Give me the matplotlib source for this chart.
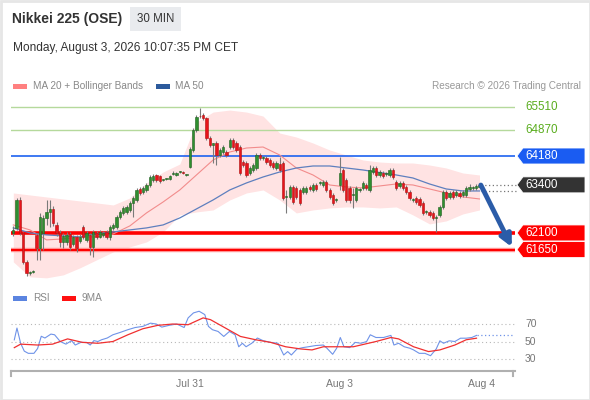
import matplotlib
matplotlib.use("Agg")
import matplotlib.pyplot as plt
from matplotlib.patches import Polygon, Rectangle
from matplotlib.transforms import IdentityTransform

plt.rcParams['font.family'] = ['Liberation Sans', 'DejaVu Sans']

# 30 min candles, Nikkei 225 (OSE)
opens = [62100, 62235, 62990, 62100, 61320, 61020, 61050, 62045, 61695, 62100,
         62505, 62670, 62750, 62315, 62100, 61860, 61860, 62075, 61805, 61995,
         61885, 62265, 61910, 62045, 61725, 62100, 61995, 62045, 62130, 61995,
         62235, 62265, 62535, 62640, 62670, 62720, 62910, 62990, 63290, 63210,
         63260, 63395, 63530, 63665, 63640, 63530, 63560, 63560, 63695, 63665,
         63750, 63750, 63665, 63885, 64340, 64880, 65260, 65285, 65205, 64665,
         64475, 64530, 64205, 64290, 64290, 64425, 64610, 64530, 64425, 64020,
         63990, 63720, 63800, 63855, 64205, 64125, 64125, 64070, 63990, 63855,
         63965, 63990, 63075, 63075, 63345, 63315, 63260, 63210, 63210, 63345,
         63260, 63395, 63450, 63395, 63480, 63260, 63130, 62990, 63395, 63800,
         63530, 63315, 63130, 62990, 63260, 63315, 63395, 63260, 63750, 63855,
         63665, 63720, 63695, 63665, 63800, 63480, 63370, 63450, 63345, 63210,
         62990, 63045, 63020, 62910, 62670, 62670, 62640, 62505, 62585, 62805,
         63210, 63075, 63210, 63130, 63180, 63130, 63130, 63290, 63315, 63315,
         63345]
highs = [62290, 63045, 63075, 62130, 61370, 61075, 61100, 62100, 62640, 62585,
         62990, 62990, 62830, 62400, 62180, 62100, 62130, 62130, 62045, 62045,
         62075, 62315, 62155, 62100, 62180, 62155, 62180, 62155, 62180, 62315,
         62370, 62585, 62720, 62830, 62855, 62965, 63100, 63315, 63345, 63370,
         63450, 63665, 63695, 63695, 63665, 63560, 63590, 63665, 63775, 63750,
         63775, 63775, 63695, 64425, 64935, 65285, 65475, 65340, 65235, 64720,
         64530, 64585, 64395, 64475, 64340, 64665, 64665, 64585, 64475, 64070,
         64045, 63910, 63990, 64260, 64260, 64180, 64180, 64125, 64045, 64045,
         64155, 64045, 63260, 63395, 63395, 63370, 63315, 63370, 63370, 63395,
         63450, 63450, 63505, 63530, 63530, 63315, 63180, 63045, 64155, 63855,
         63585, 63370, 63315, 63370, 63315, 63505, 63450, 63935, 63910, 63910,
         63800, 63775, 63750, 63855, 63855, 63530, 63505, 63505, 63395, 63260,
         63045, 63100, 63075, 62965, 62720, 62720, 62695, 62585, 62855, 63260,
         63260, 63235, 63260, 63260, 63235, 63260, 63370, 63425, 63370, 63425,
         63450]
lows = [62020, 62180, 62045, 61265, 60940, 60965, 61020, 61370, 61370, 61640,
        62315, 62265, 62290, 62020, 61725, 61695, 61775, 61640, 61750, 61590,
        61830, 61940, 61860, 61505, 61450, 61940, 61965, 61995, 61940, 61910,
        62180, 62210, 62480, 62585, 62615, 62670, 62535, 62940, 63125, 63155,
        63210, 63345, 63480, 63480, 63450, 63505, 63530, 63530, 63665, 63640,
        63720, 63695, 63640, 63855, 64290, 64830, 65205, 65150, 64610, 64425,
        63990, 63935, 64155, 64235, 64155, 64370, 64370, 64290, 63665, 63885,
        63610, 63665, 63750, 63800, 64070, 64070, 63965, 63885, 63830, 63800,
        63750, 62990, 62640, 63020, 62885, 63020, 62855, 63155, 63155, 63235,
        63210, 63235, 63395, 63345, 63210, 63020, 62855, 62940, 63260, 63210,
        62940, 62910, 62775, 62940, 63210, 63260, 63260, 63210, 63695, 63610,
        63610, 63585, 63640, 63610, 63560, 63260, 63315, 63260, 63155, 62990,
        62940, 62885, 62805, 62585, 62615, 62535, 62450, 62130, 62535, 62750,
        62990, 63020, 63020, 63075, 63045, 63075, 63075, 63235, 63260, 63260,
        63315]
closes = [62180, 62990, 62100, 61320, 61020, 61050, 61075, 61695, 62535, 62505,
          62670, 62750, 62370, 62100, 61860, 62020, 62045, 61725, 61995, 61695,
          61995, 61995, 62100, 61725, 62130, 61995, 62130, 62100, 61995, 62265,
          62315, 62535, 62670, 62775, 62805, 62910, 63045, 63260, 63180, 63315,
          63395, 63610, 63640, 63530, 63505, 63550, 63575, 63640, 63710, 63720,
          63760, 63720, 63670, 64370, 64880, 65235, 65250, 65205, 64665, 64475,
          64530, 64205, 64340, 64425, 64205, 64610, 64425, 64340, 63720, 63935,
          63665, 63855, 63935, 64205, 64125, 64140, 64020, 63935, 63885, 63990,
          63800, 63045, 63085, 63345, 62940, 63075, 62910, 63315, 63315, 63290,
          63395, 63290, 63460, 63480, 63260, 63075, 62910, 63000, 63720, 63260,
          62990, 62990, 63140, 63315, 63270, 63450, 63315, 63800, 63855, 63665,
          63750, 63640, 63705, 63800, 63610, 63315, 63450, 63315, 63210, 63045,
          63000, 62940, 62855, 62640, 62680, 62585, 62505, 62515, 62805, 63210,
          63045, 63180, 63075, 63210, 63100, 63210, 63315, 63345, 63325, 63370,
          63395]

# indicator lines, read every 5 bars
ind_idx = list(range(0, 141, 5))
ma20 = [62317, 62182, 61912, 61939, 61993, 61993, 62074, 62290, 62641, 62938,
        63262, 63667, 64072, 64288, 64396, 64423, 64207, 63856, 63667, 63397,
        63343, 63316, 63370, 63424, 63397, 63289, 63181, 63073, 63019]
ma50 = [62236, 62101, 62047, 62020, 61993, 62074, 62128, 62182, 62236, 62317,
        62506, 62749, 62992, 63262, 63451, 63613, 63748, 63856, 63910, 63910,
        63856, 63802, 63735, 63667, 63586, 63424, 63289, 63235, 63235]
bb_upper = [63181, 63127, 63073, 63019, 62965, 62911, 62857, 63046, 63451, 63748,
            63964, 65098, 65368, 65422, 65368, 65260, 64801, 64693, 64531, 64342,
            64207, 64072, 64018, 63991, 63991, 63937, 63856, 63721, 63667]
bb_lower = [61318, 60913, 60886, 60967, 61156, 61372, 61588, 61723, 61858, 62128,
            62587, 62668, 62722, 62992, 63181, 63262, 62992, 62641, 62722, 62776,
            62803, 62803, 62776, 62803, 62587, 62344, 62425, 62614, 62722]

# RSI panel
rsi_x = [0.3, 1.1, 2.2, 3.3, 4.5, 6.2, 7.3, 8.4, 9.5, 11.3, 12.4, 14.1, 15.8, 17.5,
         18.6, 20.3, 22.0, 23.1, 24.2, 25.4, 26.5, 28.2, 29.9, 32.1, 34.4, 36.6,
         38.9, 41.2, 42.9, 44.6, 46.8, 49.1, 51.3, 52.5, 54.1, 55.8, 57.5, 58.6,
         59.8, 61.5, 63.2, 64.9, 66.6, 67.7, 68.8, 69.9, 71.6, 73.3, 75.0, 77.3,
         79.5, 81.2, 82.4, 83.5, 85.2, 86.9, 88.6, 90.8, 93.1, 94.2, 95.9, 97.1,
         98.2, 99.3, 101.0, 102.7, 104.4, 106.1, 107.2, 108.9, 111.2, 113.4, 114.3,
         115.7, 117.4, 119.1, 120.2, 121.9, 123.6, 125.3, 127.0, 128.1, 129.2,
         130.9, 132.6, 134.3, 136.0, 137.7, 139.1]
rsi = [51.9, 65.4, 48, 39, 36.5, 36.5, 42, 56, 54, 58.5, 57.7, 50, 47, 51, 46, 49,
       49, 46, 51, 50, 52, 54, 57.7, 60.4, 63.5, 66, 67.3, 71, 70, 66.5, 68.5, 70,
       66, 77, 82.7, 84.6, 80.8, 67.3, 63.5, 61.5, 55.8, 61.5, 57.7, 44, 48, 44, 48,
       54, 51, 49, 48, 34.6, 38.5, 34.6, 41.5, 43, 44, 45.4, 46, 42.3, 35.4, 42.3,
       54.6, 44, 43, 49, 48, 50, 57.7, 54.6, 54.6, 57, 46, 48, 44, 42.3, 40.4, 36.5,
       36.5, 33.8, 41.5, 50.8, 48, 50.8, 50, 53.8, 53.8, 54.6, 57]
ma9_x = [0.3, 2.2, 7.3, 11.8, 16.3, 20.8, 25.4, 29.9, 34.4, 38.9, 43.4, 47.9, 52.5,
         57.0, 59.2, 63.7, 68.2, 72.8, 77.3, 81.8, 86.3, 89.7, 93.1, 97.6, 102.1,
         105.5, 108.9, 113.4, 115.7, 120.2, 124.7, 128.1, 132.6, 136.0, 139.1]
ma9 = [43, 47, 46, 47, 53, 49, 48, 50, 57.7, 64.6, 68.5, 70, 69.2, 77, 75, 65.4,
       55.8, 52, 49, 44, 41.5, 40.4, 44, 44, 44, 47, 50, 54.6, 53, 44, 38.5, 40.4,
       46, 52, 53.8]

resist = [65510, 64870]
pivot = 64180
last_price = 63400
supports = [62100, 61650]
day_ticks = [53, 98, 140.5]
day_labels = ['Jul 31', 'Aug 3', 'Aug 4']

W, H = 590, 400
fig = plt.figure(figsize=(W / 100, H / 100), dpi=100)
fig.patch.set_facecolor('white')
fig.add_artist(Rectangle((0.5, 0.5), W - 1, H - 1, transform=IdentityTransform(),
                         fill=False, edgecolor='#e6e6e6', lw=2))

def fbox(l, t, r, b):
    return [l / W, 1 - b / H, (r - l) / W, (b - t) / H]

# header
fig.text(12 / W, 1 - 19 / H, 'Nikkei 225 (OSE)', fontsize=10, fontweight='bold',
         color='#333333', va='center')
fig.add_artist(Rectangle((130 / W, 1 - 31 / H), 51 / W, 24 / H,
                         transform=fig.transFigure, facecolor='#e9ebee', edgecolor='none'))
fig.text(155.5 / W, 1 - 19 / H, '30 MIN', fontsize=8.3, color='#333333',
         ha='center', va='center')
fig.text(13 / W, 1 - 48 / H, 'Monday, August 3, 2026 10:07:35 PM CET', fontsize=8.6,
         color='#333333', va='center')

# legends
def swatch(x, y, color):
    fig.add_artist(Rectangle((x / W, 1 - (y + 2.5) / H), 14 / W, 5 / H,
                             transform=fig.transFigure, facecolor=color, edgecolor='none'))

swatch(13, 86, '#ff8080')
fig.text(33 / W, 1 - 86 / H, 'MA 20 + Bollinger Bands', fontsize=7.2, color='#888888', va='center')
swatch(156, 86, '#2c5a9c')
fig.text(175 / W, 1 - 86 / H, 'MA 50', fontsize=7.2, color='#888888', va='center')
fig.text(581 / W, 1 - 86 / H, 'Research \u00a9 2026 Trading Central', fontsize=7.2,
         color='#999999', va='center', ha='right')
swatch(13, 298, '#5b84e0')
fig.text(33 / W, 1 - 298 / H, 'RSI', fontsize=7.2, color='#888888', va='center')
swatch(62, 298, '#ff1010')
fig.text(82 / W, 1 - 298 / H, '9MA', fontsize=7.2, color='#888888', va='center')

# main price panel
ax = fig.add_axes(fbox(11, 100, 515, 282))
ax.set_xlim(-0.69, 150.66)
ax.set_ylim(60774, 65694)
ax.axis('off')

ax.fill_between(ind_idx, bb_lower, bb_upper, color='#ffe3e3', lw=0, zorder=1)
ax.plot(ind_idx, ma20, color='#f28c8c', lw=0.8, zorder=2)
ax.plot(ind_idx, ma50, color='#5e7fbe', lw=0.9, zorder=2)

for lv in resist:
    ax.axhline(lv, color='#b5d99c', lw=1, zorder=1.5)
ax.axhline(pivot, color='#1e62f0', lw=1.2, zorder=1.5)
ax.axhline(supports[0], color='#ff0000', lw=2.6, zorder=1.5)
ax.axhline(supports[1], color='#ff9a9a', lw=3.2, zorder=1.5)
ax.axhline(supports[1], color='#ff0000', lw=1.5, zorder=1.6)

idx = list(range(len(closes)))
up = [c >= o for o, c in zip(opens, closes)]
face = ['#2f8f2f' if u else '#e8141b' for u in up]
edge = ['#1f5f1f' if u else '#b01010' for u in up]
body_h = [max(abs(c - o), 20) for o, c in zip(opens, closes)]
body_b = [min(o, c) for o, c in zip(opens, closes)]
ax.vlines(idx, lows, highs, color='#7a7a7a', lw=0.8, zorder=3)
ax.bar(idx, body_h, bottom=body_b, width=0.68, color=face, edgecolor=edge,
       linewidth=0.4, zorder=4)

n = len(closes)
ax.plot([n - 0.5, 151.3], [last_price, last_price], ls=(0, (1, 2)), color='#777777',
        lw=0.9, clip_on=False, zorder=2)
ax.plot([n - 0.5, 151.3], [ma50[-1], ma50[-1]], ls=(0, (1, 2)), color='#777777',
        lw=0.9, clip_on=False, zorder=2)

ax.annotate('', xy=(n + 8.7, supports[1] + 70), xytext=(n - 0.6, closes[-1]),
            arrowprops=dict(arrowstyle='-|>', color='#2b5ca8', lw=3.5,
                            mutation_scale=17, shrinkA=0, shrinkB=0), zorder=6)

# price tags on the right
def yd(level):
    return ax.transData.transform((0, level))[1]

for lv in resist:
    fig.text(525 / W, yd(lv) / H, str(lv), fontsize=8.4, color='#5aad1e', va='center')

def tag(level, color):
    y = yd(level)
    pts = [(517, y), (523, y + 8), (585, y + 8), (585, y - 8), (523, y - 8)]
    fig.add_artist(Polygon(pts, closed=True, facecolor=color, edgecolor='white',
                           lw=0.6, transform=IdentityTransform()))
    fig.text(525 / W, y / H, str(level), fontsize=8.4, color='white', va='center')

tag(pivot, '#1a5cf2')
tag(last_price, '#333333')
tag(supports[0], '#ff0000')
tag(supports[1], '#ff0000')

# RSI panel
ax2 = fig.add_axes(fbox(11, 306, 515, 371))
ax2.set_xlim(-0.69, 150.66)
ax2.set_ylim(16.3, 90.6)
for s in ['top', 'right', 'left']:
    ax2.spines[s].set_visible(False)
ax2.spines['bottom'].set_color('#b0b0b0')
ax2.spines['bottom'].set_linewidth(1.5)
ax2.set_yticks([])
ax2.set_xticks(day_ticks)
ax2.set_xticklabels(day_labels)
ax2.tick_params(axis='x', length=0, pad=6, labelsize=7.5, labelcolor='#777777')
for xa in [0, 0.996]:
    ax2.plot([xa, xa], [0, -0.08], transform=ax2.transAxes, color='#b0b0b0',
             lw=1.5, clip_on=False)
for lv in [30, 50, 70]:
    ax2.axhline(lv, color='#b8b8b8', lw=0.8, ls=(0, (1, 2.5)))
    y = ax2.transData.transform((0, lv))[1]
    fig.text(525 / W, y / H, str(lv), fontsize=7.5, color='#777777', va='center')
ax2.plot(rsi_x, rsi, color='#6f93e8', lw=0.8)
ax2.plot(ma9_x, ma9, color='#f03030', lw=0.9)
ax2.plot([rsi_x[-1], 150.3], [rsi[-1], rsi[-1]], color='#6f93e8', lw=0.9,
         ls=(0, (1, 2)))

fig.savefig('out.png', dpi=100)
